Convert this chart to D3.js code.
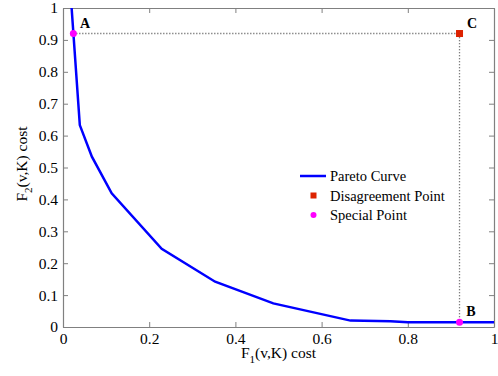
<!DOCTYPE html>
<html>
<head>
<meta charset="utf-8">
<script src="https://cdn.jsdelivr.net/npm/d3@7"></script>
<style>
  body { margin: 0; background: #fff; }
</style>
</head>
<body>
<div id="chart"></div>
<script>
// pareto front
var paretoF1 = [0.020, 0.039, 0.067, 0.113, 0.229, 0.353, 0.488, 0.667, 0.760, 0.800, 1.0];
var paretoF2 = [1.000, 0.633, 0.534, 0.419, 0.245, 0.142, 0.074, 0.020, 0.018, 0.015, 0.015];

var disagreement = [0.92, 0.92];
var specialPoints = [
  { name: "A", f1: 0.024, f2: 0.92 },
  { name: "B", f1: 0.92, f2: 0.015 }
];
var xTicks = [0, 0.2, 0.4, 0.6, 0.8, 1];
var yTicks = [0, 0.1, 0.2, 0.3, 0.4, 0.5, 0.6, 0.7, 0.8, 0.9, 1];
var legendItems = ["Pareto Curve", "Disagreement Point", "Special Point"];

var width = 498, height = 376;
var margin = { left: 63, right: 4, top: 8, bottom: 49 };
var serif = "Liberation Serif";

var svg = d3.select("#chart").append("svg")
  .attr("width", width)
  .attr("height", height)
  .attr("font-family", serif);

var x = d3.scaleLinear().domain([0, 1]).range([margin.left, width - margin.right]);
var y = d3.scaleLinear().domain([0, 1]).range([height - margin.bottom, margin.top]);

var axisColor = "#808080";

// axes with inward ticks on all sides
var xb = svg.append("g").attr("transform", "translate(0," + y(0) + ")")
  .call(d3.axisBottom(x).tickValues(xTicks).tickSizeInner(-5).tickSizeOuter(0).tickPadding(6).tickFormat(d3.format("")));
var xt = svg.append("g").attr("transform", "translate(0," + y(1) + ")")
  .call(d3.axisTop(x).tickValues(xTicks).tickSizeInner(-5).tickSizeOuter(0).tickFormat(""));
var yl = svg.append("g").attr("transform", "translate(" + x(0) + ",0)")
  .call(d3.axisLeft(y).tickValues(yTicks).tickSizeInner(-5).tickSizeOuter(0).tickPadding(5).tickFormat(d3.format("")));
var yr = svg.append("g").attr("transform", "translate(" + x(1) + ",0)")
  .call(d3.axisRight(y).tickValues(yTicks).tickSizeInner(-5).tickSizeOuter(0).tickFormat(""));

[xb, xt, yl, yr].forEach(function (g) {
  g.attr("font-family", serif).attr("font-size", 15.5);
  g.selectAll("path").attr("stroke", axisColor).attr("stroke-width", 1.2);
  g.selectAll("line").attr("stroke", axisColor);
  g.selectAll("text").attr("fill", "#000");
});

// dotted guide lines A -> C -> B
svg.append("path")
  .attr("d", d3.line()([
    [x(specialPoints[0].f1), y(specialPoints[0].f2)],
    [x(disagreement[0]), y(disagreement[1])],
    [x(specialPoints[1].f1), y(specialPoints[1].f2)]
  ]))
  .attr("fill", "none")
  .attr("stroke", "#555")
  .attr("stroke-width", 1.3)
  .attr("stroke-dasharray", "1,2");

// pareto curve
var pts = paretoF1.map(function (d, i) { return [d, paretoF2[i]]; });
svg.append("path")
  .datum(pts)
  .attr("d", d3.line().x(function (d) { return x(d[0]); }).y(function (d) { return y(d[1]); }))
  .attr("fill", "none")
  .attr("stroke", "#0000ff")
  .attr("stroke-width", 2.5);

// disagreement point
svg.append("rect")
  .attr("x", x(disagreement[0]) - 3.5)
  .attr("y", y(disagreement[1]) - 3.5)
  .attr("width", 7).attr("height", 7)
  .attr("fill", "#dd2200");

// special points
svg.selectAll(".sp").data(specialPoints).enter().append("circle")
  .attr("class", "sp")
  .attr("cx", function (d) { return x(d.f1); })
  .attr("cy", function (d) { return y(d.f2); })
  .attr("r", 3.5)
  .attr("fill", "#ff00ff");

// point labels
var labelPos = { A: [85, 23], B: [471, 311], C: [472, 23] };
["A", "B", "C"].forEach(function (k) {
  svg.append("text")
    .attr("x", labelPos[k][0]).attr("y", labelPos[k][1])
    .attr("text-anchor", "middle").attr("dy", "0.35em")
    .attr("font-weight", "bold").attr("font-size", 14)
    .text(k);
});

// legend
var lg = svg.append("g");
var lx = 300, ly = 176, lh = 19.5;
legendItems.forEach(function (name, i) {
  var yy = ly + i * lh;
  if (i === 0) {
    lg.append("line").attr("x1", lx).attr("x2", lx + 26).attr("y1", yy).attr("y2", yy)
      .attr("stroke", "#0000ff").attr("stroke-width", 2.5);
  } else if (i === 1) {
    lg.append("rect").attr("x", lx + 13.5 - 3).attr("y", yy - 3).attr("width", 6).attr("height", 6)
      .attr("fill", "#dd2200");
  } else {
    lg.append("circle").attr("cx", lx + 13.5).attr("cy", yy).attr("r", 3).attr("fill", "#ff00ff");
  }
  lg.append("text").attr("x", lx + 30).attr("y", yy).attr("dy", "0.35em")
    .attr("font-size", 14.5).text(name);
});

// axis titles
var xTitle = svg.append("text")
  .attr("x", (x(0) + x(1)) / 2).attr("y", 358)
  .attr("text-anchor", "middle").attr("font-size", 15.5);
xTitle.append("tspan").text("F");
xTitle.append("tspan").attr("dy", 5).attr("font-size", 11).text("1");
xTitle.append("tspan").attr("dy", -5).text("(v,K) cost");

var yTitle = svg.append("text")
  .attr("transform", "translate(27,164) rotate(-90)")
  .attr("text-anchor", "middle").attr("font-size", 15.5);
yTitle.append("tspan").text("F");
yTitle.append("tspan").attr("dy", 5).attr("font-size", 11).text("2");
yTitle.append("tspan").attr("dy", -5).text("(v,K) cost");
</script>
</body>
</html>
